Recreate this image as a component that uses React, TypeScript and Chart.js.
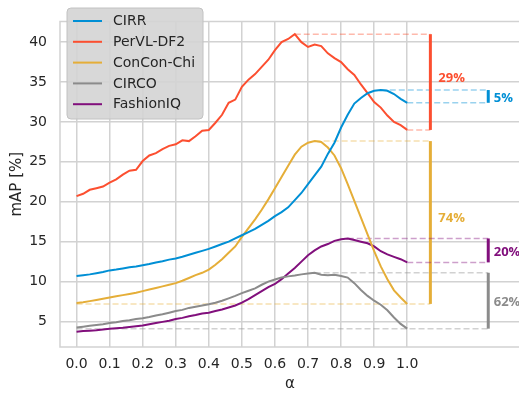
import React, { useEffect, useRef } from "react";
import { Chart, registerables } from "chart.js";
Chart.register(...registerables);

const alphas = [
  0.0, 0.02, 0.04, 0.06, 0.08, 0.1, 0.12, 0.14, 0.16, 0.18,
  0.2, 0.22, 0.24, 0.26, 0.28, 0.3, 0.32, 0.34, 0.36, 0.38,
  0.4, 0.42, 0.44, 0.46, 0.48, 0.5, 0.52, 0.54, 0.56, 0.58,
  0.6, 0.62, 0.64, 0.66, 0.68, 0.7, 0.72, 0.74, 0.76, 0.78,
  0.8, 0.82, 0.84, 0.86, 0.88, 0.9, 0.92, 0.94, 0.96, 0.98, 1.0,
];

const cirr = [
  10.7, 10.8, 10.9, 11.05, 11.2, 11.4, 11.5, 11.65, 11.8, 11.9,
  12.05, 12.2, 12.4, 12.55, 12.75, 12.9, 13.1, 13.35, 13.6, 13.85,
  14.1, 14.4, 14.7, 15.0, 15.4, 15.8, 16.2, 16.6, 17.1, 17.6,
  18.2, 18.7, 19.3, 20.2, 21.1, 22.2, 23.3, 24.4, 26.0, 27.4,
  29.3, 30.9, 32.3, 33.0, 33.6, 33.9, 34.0, 33.9, 33.5, 32.9, 32.4,
];

const pervl = [
  20.7, 21.0, 21.5, 21.7, 21.9, 22.4, 22.8, 23.4, 23.9, 24.0,
  25.1, 25.8, 26.1, 26.6, 27.0, 27.2, 27.7, 27.6, 28.2, 28.9,
  29.0, 29.9, 30.9, 32.4, 32.8, 34.4, 35.3, 36.0, 36.9, 37.8,
  39.0, 40.0, 40.4, 41.0, 40.0, 39.4, 39.7, 39.5, 38.6, 38.0,
  37.5, 36.6, 35.9, 34.7, 33.6, 32.5, 31.8, 30.8, 30.0, 29.6, 29.0,
];

const concon = [
  7.3, 7.4, 7.55, 7.7, 7.85, 8.0, 8.15, 8.3, 8.45, 8.6,
  8.8, 9.0, 9.2, 9.4, 9.6, 9.8, 10.1, 10.45, 10.8, 11.1,
  11.5, 12.1, 12.8, 13.6, 14.4, 15.6, 16.7, 17.8, 19.0, 20.3,
  21.7, 23.1, 24.5, 25.9, 26.9, 27.4, 27.6, 27.5, 26.8, 25.8,
  24.2, 22.2, 20.1, 18.0, 15.9, 13.8, 11.9, 10.3, 8.9, 8.0, 7.2,
];

const circo = [
  4.25, 4.35, 4.45, 4.55, 4.65, 4.8, 4.9, 5.05, 5.15, 5.3,
  5.4, 5.55, 5.75, 5.9, 6.1, 6.3, 6.45, 6.7, 6.85, 7.0,
  7.15, 7.35, 7.6, 7.9, 8.2, 8.55, 8.85, 9.15, 9.6, 10.0,
  10.25, 10.5, 10.65, 10.75, 10.9, 11.0, 11.1, 10.85, 10.8, 10.85,
  10.7, 10.5, 9.8, 8.95, 8.2, 7.6, 7.1, 6.4, 5.5, 4.7, 4.1,
];

const fashioniq = [
  3.7, 3.8, 3.85, 3.9, 4.0, 4.1, 4.15, 4.2, 4.3, 4.4,
  4.5, 4.65, 4.8, 4.95, 5.1, 5.3, 5.45, 5.65, 5.8, 6.0,
  6.1, 6.3, 6.5, 6.75, 7.0, 7.35, 7.8, 8.3, 8.8, 9.3,
  9.7, 10.3, 11.0, 11.7, 12.5, 13.3, 13.9, 14.4, 14.7, 15.1,
  15.3, 15.4, 15.2, 15.0, 14.8, 14.4, 13.8, 13.4, 13.1, 12.8, 12.4,
];

const seriesNames = ["CIRR", "PerVL-DF2", "ConCon-Chi", "CIRCO", "FashionIQ"];
const seriesValues = [cirr, pervl, concon, circo, fashioniq];
const seriesColors = ["#008fd5", "#fc4f30", "#e5ae38", "#8b8b8b", "#810f7c"];
const dropLabels = ["5%", "29%", "74%", "62%", "20%"];
const barAlphas = [1.245, 1.07, 1.07, 1.245, 1.245];
const lowStartAlphas = [1.0, 1.0, 0.0, 0.0, 1.0];
const labelAboveMid = [false, true, true, false, false];

const xTicks = [0, 0.1, 0.2, 0.3, 0.4, 0.5, 0.6, 0.7, 0.8, 0.9, 1.0];
const yTicks = [5, 10, 15, 20, 25, 30, 35, 40];

const FONT = "'DejaVu Sans', sans-serif";
const LABEL_FONT = "'Open Sans', sans-serif";
const TEXT = "#262626";
const GRID = "#d2d2d2";

function rgba(hex: string, a: number) {
  const n = parseInt(hex.slice(1), 16);
  return `rgba(${(n >> 16) & 255},${(n >> 8) & 255},${n & 255},${a})`;
}

const annotPlugin = {
  id: "annot",
  beforeDatasetsDraw(chart: any) {
    const { ctx, chartArea, scales } = chart;
    const xs = scales.x;
    const ys = scales.y;
    ctx.save();
    // frame
    ctx.strokeStyle = GRID;
    ctx.lineWidth = 1.5;
    ctx.beginPath();
    ctx.moveTo(chartArea.right + 2, chartArea.top);
    ctx.lineTo(chartArea.left, chartArea.top);
    ctx.lineTo(chartArea.left, chartArea.bottom);
    ctx.lineTo(chartArea.right + 2, chartArea.bottom);
    ctx.stroke();

    seriesValues.forEach((vals, i) => {
      let mi = 0;
      vals.forEach((v, k) => {
        if (v > vals[mi]) mi = k;
      });
      const hi = vals[mi];
      const lo = vals[vals.length - 1];
      const bx = xs.getPixelForValue(barAlphas[i]);
      const yHi = ys.getPixelForValue(hi);
      const yLo = ys.getPixelForValue(lo);
      const col = seriesColors[i];
      ctx.setLineDash([6, 3]);
      ctx.lineWidth = 1.5;
      ctx.strokeStyle = rgba(col, 0.4);
      ctx.beginPath();
      ctx.moveTo(xs.getPixelForValue(alphas[mi]), yHi);
      ctx.lineTo(bx, yHi);
      ctx.moveTo(xs.getPixelForValue(lowStartAlphas[i]), yLo);
      ctx.lineTo(bx, yLo);
      ctx.stroke();
      ctx.setLineDash([]);
      ctx.lineWidth = 3;
      ctx.strokeStyle = col;
      ctx.beginPath();
      ctx.moveTo(bx, yHi);
      ctx.lineTo(bx, yLo);
      ctx.stroke();
      ctx.fillStyle = col;
      ctx.font = `bold 13px ${LABEL_FONT}`;
      ctx.textAlign = "left";
      ctx.textBaseline = "alphabetic";
      const mid = (yHi + yLo) / 2;
      if (labelAboveMid[i]) {
        ctx.fillText(dropLabels[i], bx + 8, mid - 0.5);
      } else {
        ctx.fillText(dropLabels[i], bx + 5.5, mid + 5.2);
      }
    });
    ctx.restore();
  },
  afterDraw(chart: any) {
    const { ctx, chartArea } = chart;
    ctx.save();
    // axis titles
    ctx.fillStyle = TEXT;
    ctx.font = `15px ${FONT}`;
    ctx.textAlign = "center";
    ctx.textBaseline = "middle";
    ctx.fillText("α", 290, 384);
    ctx.translate(17.5, (chartArea.top + chartArea.bottom) / 2);
    ctx.rotate(-Math.PI / 2);
    ctx.fillText("mAP [%]", 0, 0);
    ctx.restore();

    // legend
    ctx.save();
    const lx = 67, ly = 8, lw = 136, lh = 111, r = 4;
    ctx.beginPath();
    ctx.moveTo(lx + r, ly);
    ctx.arcTo(lx + lw, ly, lx + lw, ly + lh, r);
    ctx.arcTo(lx + lw, ly + lh, lx, ly + lh, r);
    ctx.arcTo(lx, ly + lh, lx, ly, r);
    ctx.arcTo(lx, ly, lx + lw, ly, r);
    ctx.closePath();
    ctx.fillStyle = "rgba(212,212,212,0.9)";
    ctx.fill();
    ctx.strokeStyle = "#c2c2c2";
    ctx.lineWidth = 1;
    ctx.stroke();
    ctx.font = `14px ${FONT}`;
    ctx.textAlign = "left";
    ctx.textBaseline = "middle";
    seriesNames.forEach((name, i) => {
      const yy = 21 + i * 20.8;
      ctx.strokeStyle = seriesColors[i];
      ctx.lineWidth = 2;
      ctx.beginPath();
      ctx.moveTo(73, yy);
      ctx.lineTo(102, yy);
      ctx.stroke();
      ctx.fillStyle = TEXT;
      ctx.fillText(name, 113, yy + 0.5);
    });
    ctx.restore();
  },
};

export default function App() {
  const ref = useRef<HTMLCanvasElement>(null);
  useEffect(() => {
    if (!ref.current) return;
    const chart = new Chart(ref.current, {
      type: "line",
      data: {
        datasets: seriesNames.map((name, i) => ({
          label: name,
          data: alphas.map((a, k) => ({ x: a, y: seriesValues[i][k] })),
          borderColor: seriesColors[i],
          backgroundColor: seriesColors[i],
          borderWidth: 2,
          pointRadius: 0,
          tension: 0,
          fill: false,
        })),
      },
      options: {
        responsive: false,
        animation: false,
        events: [],
        layout: { padding: { top: 3, left: 0, right: 0, bottom: 0 } },
        plugins: { legend: { display: false }, tooltip: { enabled: false } },
        scales: {
          x: {
            type: "linear",
            min: -0.05,
            max: 1.338,
            afterBuildTicks: (s: any) => {
              s.ticks = xTicks.map((v) => ({ value: v }));
            },
            afterFit: (s: any) => {
              s.height = 47;
            },
            ticks: {
              autoSkip: false,
              maxRotation: 0,
              padding: 9,
              color: TEXT,
              font: { family: FONT, size: 14 },
              callback: (v: any) => Number(v).toFixed(1),
            },
            grid: { color: GRID, lineWidth: 1.5, drawTicks: false },
            border: { display: false },
          },
          y: {
            type: "linear",
            min: 1.8,
            max: 42.6,
            afterBuildTicks: (s: any) => {
              s.ticks = yTicks.map((v) => ({ value: v }));
            },
            afterFit: (s: any) => {
              s.width = 60;
            },
            ticks: {
              padding: 13,
              color: TEXT,
              font: { family: FONT, size: 14 },
              callback: (v: any) => String(v),
            },
            grid: { color: GRID, lineWidth: 1.5, drawTicks: false },
            border: { display: false },
          },
        },
      },
      plugins: [annotPlugin],
    });
    return () => chart.destroy();
  }, []);
  return (
    <canvas
      ref={ref}
      width={519}
      height={394}
      style={{ position: "absolute", left: 0, top: 0, width: 519, height: 394 }}
    />
  );
}
